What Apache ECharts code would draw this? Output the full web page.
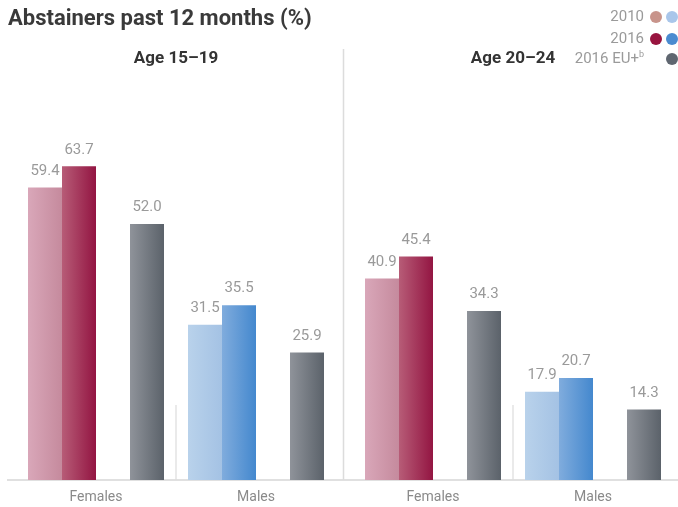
<!DOCTYPE html>
<html>
<head>
<meta charset="utf-8">
<script src="https://cdn.jsdelivr.net/npm/echarts@6/dist/echarts.min.js"></script>
<style>
html,body{margin:0;padding:0;background:#fff;}
#c{width:678px;height:507px;}
</style>
</head>
<body>
<div id="c"></div>
<script>
// ---- data ----
const title = 'Abstainers past 12 months (%)';
const categories = ['Females', 'Males'];
const panelTitles = ['Age 15–19', 'Age 20–24'];
const legendLabels = ['2010', '2016', '2016 EU+'];
const y2010_15 = [59.4, 31.5];
const y2016_15 = [63.7, 35.5];
const eu_15 = [52.0, 25.9];
const y2010_20 = [40.9, 17.9];
const y2016_20 = [45.4, 20.7];
const eu_20 = [34.3, 14.3];

// ---- styles ----
function grad(a, b) {
  return {type: 'linear', x: 0, y: 0, x2: 1, y2: 0,
    colorStops: [{offset: 0, color: a}, {offset: 1, color: b}]};
}
const col2010 = [grad('#d9a7b9', '#c58a9d'), grad('#b9d2eb', '#a4c2e4')];
const col2016 = [grad('#b75c77', '#931542'), grad('#80acdd', '#4488ce')];
const colEU = grad('#8f939a', '#5b626a');
const FONT = 'Roboto, "Liberation Sans", sans-serif';

const GRID_TOP = 86, GRID_BOTTOM = 27, YMAX = 80;
const grids = [
  {left: 16, top: GRID_TOP, width: 320, bottom: GRID_BOTTOM},
  {left: 353, top: GRID_TOP, width: 320, bottom: GRID_BOTTOM}
];

function items(vals, colors) {
  return vals.map((v, i) => ({value: v, itemStyle: {color: Array.isArray(colors) ? colors[i] : colors}}));
}
const labelStyle = {
  show: true, position: 'top', distance: 9, color: '#9a9a9a', fontSize: 15,
  fontFamily: FONT, formatter: p => p.value.toFixed(1)
};
function panelSeries(idx, a, b, c) {
  const base = {type: 'bar', xAxisIndex: idx, yAxisIndex: idx, barWidth: 34, barGap: '0%',
    label: labelStyle, emphasis: {disabled: true}};
  return [
    Object.assign({}, base, {name: '2010', data: items(a, col2010)}),
    Object.assign({}, base, {name: '2016', data: items(b, col2016)}),
    Object.assign({}, base, {name: 'gap', data: ['-', '-'], label: {show: false}}),
    Object.assign({}, base, {name: '2016 EU+', data: items(c, colEU)})
  ];
}

const xAxes = grids.map((g, i) => ({
  type: 'category', gridIndex: i, data: categories,
  axisLine: {show: false}, axisTick: {show: false},
  axisLabel: {color: '#8a8a8a', fontSize: 14, fontFamily: FONT, margin: 10}
}));
const yAxes = grids.map((g, i) => ({
  type: 'value', gridIndex: i, min: 0, max: YMAX, show: false, splitLine: {show: false}
}));

const baseY = 507 - GRID_BOTTOM;
const graphics = [
  {type: 'text', left: 8, top: 8, style: {text: title, fill: '#3a3a3a', font: 'bold 22px Roboto, "Liberation Sans", sans-serif'}},
  // baseline
  {type: 'line', shape: {x1: 7, y1: baseY, x2: 678, y2: baseY}, style: {stroke: '#d6d6d6', lineWidth: 1.5}},
  // panel separator
  {type: 'line', shape: {x1: 343.5, y1: 49, x2: 343.5, y2: baseY}, style: {stroke: '#dcdcdc', lineWidth: 1.5}},
  // category dividers
  {type: 'line', shape: {x1: grids[0].left + grids[0].width / 2, y1: 405, x2: grids[0].left + grids[0].width / 2, y2: baseY}, style: {stroke: '#dcdcdc', lineWidth: 1.2}},
  {type: 'line', shape: {x1: grids[1].left + grids[1].width / 2, y1: 405, x2: grids[1].left + grids[1].width / 2, y2: baseY}, style: {stroke: '#dcdcdc', lineWidth: 1.2}},
  // panel titles
  {type: 'text', x: grids[0].left + grids[0].width / 2, y: 59, style: {text: panelTitles[0], fill: '#333', font: 'bold 17px ' + FONT, align: 'center', verticalAlign: 'middle'}},
  {type: 'text', x: grids[1].left + grids[1].width / 2, y: 59, style: {text: panelTitles[1], fill: '#333', font: 'bold 17px ' + FONT, align: 'center', verticalAlign: 'middle'}},
  // legend
  {type: 'text', x: 644, y: 17, style: {text: legendLabels[0], fill: '#9a9a9a', font: '15px ' + FONT, align: 'right', verticalAlign: 'middle'}},
  {type: 'text', x: 644, y: 39, style: {text: legendLabels[1], fill: '#9a9a9a', font: '15px ' + FONT, align: 'right', verticalAlign: 'middle'}},
  {type: 'text', x: 644, y: 59, style: {text: '{a|' + legendLabels[2] + '}{s|b}', align: 'right', verticalAlign: 'middle',
    rich: {a: {fill: '#9a9a9a', font: '15px ' + FONT}, s: {fill: '#9a9a9a', font: '9px ' + FONT, verticalAlign: 'top', padding: [0, 0, 8, 0]}}}},
  {type: 'circle', shape: {cx: 656, cy: 17, r: 6}, style: {fill: '#c8948b'}},
  {type: 'circle', shape: {cx: 672, cy: 17, r: 6}, style: {fill: '#a9c6ea'}},
  {type: 'circle', shape: {cx: 656, cy: 39, r: 6}, style: {fill: '#98143f'}},
  {type: 'circle', shape: {cx: 672, cy: 39, r: 6}, style: {fill: '#4a8bd0'}},
  {type: 'circle', shape: {cx: 672, cy: 59, r: 6}, style: {fill: '#5f6670'}}
];

const chart = echarts.init(document.getElementById('c'), null, {renderer: 'canvas'});
chart.setOption({
  animation: false,
  backgroundColor: '#fff',
  grid: grids,
  xAxis: xAxes,
  yAxis: yAxes,
  series: panelSeries(0, y2010_15, y2016_15, eu_15).concat(panelSeries(1, y2010_20, y2016_20, eu_20)),
  graphic: graphics
});
</script>
</body>
</html>
